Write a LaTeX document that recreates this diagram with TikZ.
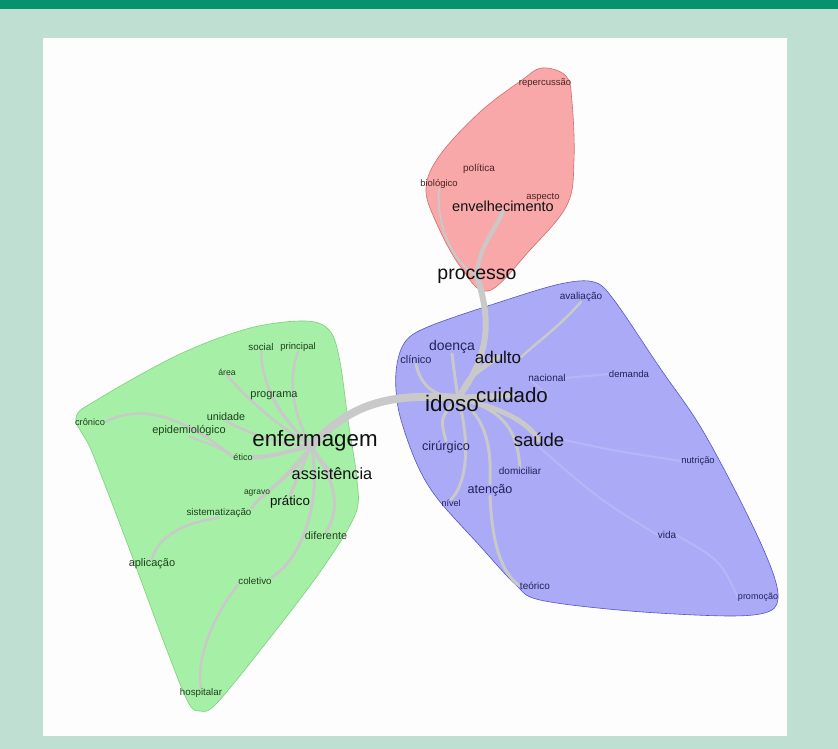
\documentclass[tikz,border=0pt]{standalone}
\usepackage{fontspec}
\setmainfont{Liberation Sans}
\pgfdeclarelayer{hull}
\pgfdeclarelayer{edges}
\pgfsetlayers{hull,edges,main}
\definecolor{bgl}{HTML}{C0DFD3}
\definecolor{bgd}{HTML}{07926E}
\definecolor{panel}{HTML}{FDFDFD}
\definecolor{redfill}{HTML}{F8A8A8}
\definecolor{redline}{HTML}{D86A6A}
\definecolor{grnfill}{HTML}{A6EFA6}
\definecolor{grnline}{HTML}{7AD27A}
\definecolor{blufill}{HTML}{AAAAF6}
\definecolor{bluline}{HTML}{5555C8}
\definecolor{edgec}{HTML}{C9C9C9}
\definecolor{rtext}{HTML}{4A2424}
\definecolor{gtext}{HTML}{1F3F1F}
\definecolor{btext}{HTML}{22225A}
\definecolor{dark}{HTML}{111111}
\begin{document}
\begin{tikzpicture}[x=1pt,y=-1pt,
  fs/.style={inner sep=0pt,font=\fontsize{#1}{#1}\selectfont},
  lnk/.style={draw=edgec,line width=#1,line cap=round},
  faint/.style={draw=white,opacity=0.15,line width=#1,line cap=round},
  hullr/.style={fill=redfill,draw=redline,line width=0.6pt},
  hullg/.style={fill=grnfill,draw=grnline,line width=0.6pt},
  hullb/.style={fill=blufill,draw=bluline,line width=0.6pt}]
\useasboundingbox (0,0) rectangle (838,749);
\begin{pgfonlayer}{hull}
\fill[bgl] (0,0) rectangle (838,749);
\fill[bgd] (0,0) rectangle (838,9);
\fill[panel] (43,38) rectangle (787,736);
% red cluster
\path[hullr] plot[smooth cycle,tension=0.6] coordinates {
 (542,68) (566,76) (572,102) (574,160) (567,205) (530,250) (488,291)
 (460,266) (436,222) (426,188) (440,155) (480,112) (522,80)};
% green cluster
\path[hullg] plot[smooth cycle,tension=0.55] coordinates {
 (76,418) (100,398) (180,354) (250,328) (306,321) (330,331) (340,362)
 (348,420) (357,480) (355,515) (320,572) (262,648) (216,704) (200,711)
 (188,702) (165,645) (126,540) (92,452)};
% blue cluster
\path[hullb] plot[smooth cycle,tension=0.55] coordinates {
 (396,372) (405,342) (430,326) (500,302) (560,284) (594,282) (614,300)
 (660,368) (700,426) (740,500) (768,560) (778,594) (770,611) (730,616)
 (630,611) (540,600) (515,584) (480,546) (437,498) (416,462) (399,412)};
\end{pgfonlayer}

% ---------------- labels: red cluster
\node[fs=9.5,text=rtext] (repercussao) at (545,83) {repercussão};
\node[fs=10,text=rtext] (politica) at (479,169) {política};
\node[fs=9.5,text=rtext] (biologico) at (439,184) {biológico};
\node[fs=9.5,text=rtext] (aspecto) at (543,197) {aspecto};
\node[fs=14.5,text=dark] (env) at (503,206) {envelhecimento};
\node[fs=19.5,text=dark] (proc) at (477,276) {processo};

% ---------------- labels: blue cluster
\node[fs=10,text=btext] (avaliacao) at (581,297) {avaliação};
\node[fs=14,text=btext] (doenca) at (452,347) {doença};
\node[fs=17,text=dark] (adulto) at (498,357) {adulto};
\node[fs=11,text=btext] (clinico) at (416,360) {clínico};
\node[fs=10,text=btext] (nacional) at (547,378) {nacional};
\node[fs=9.6,text=btext] (demanda) at (629,374) {demanda};
\node[fs=22.5,text=dark] (idoso) at (452,403) {idoso};
\node[fs=20.5,text=dark] (cuidado) at (512,395) {cuidado};
\node[fs=18.5,text=dark] (saude) at (539,440) {saúde};
\node[fs=12.7,text=btext] (cirurgico) at (446,447) {cirúrgico};
\node[fs=10,text=btext] (domiciliar) at (520,471) {domiciliar};
\node[fs=12.6,text=btext] (atencao) at (490,490) {atenção};
\node[fs=9,text=btext] (nivel) at (451,503) {nível};
\node[fs=9.4,text=btext] (nutricao) at (698,461) {nutrição};
\node[fs=10,text=btext] (vida) at (667,535) {vida};
\node[fs=10,text=btext] (teorico) at (535,586) {teórico};
\node[fs=9,text=btext] (promocao) at (758,597) {promoção};

% ---------------- labels: green cluster
\node[fs=9.8,text=gtext] (social) at (261,347) {social};
\node[fs=9.5,text=gtext] (principal) at (298,347) {principal};
\node[fs=8.7,text=gtext] (area) at (227,372) {área};
\node[fs=11,text=gtext] (programa) at (274,396) {programa};
\node[fs=10.8,text=gtext] (unidade) at (226,417) {unidade};
\node[fs=9.3,text=gtext] (cronico) at (90,422) {crônico};
\node[fs=11,text=gtext] (epid) at (189,431) {epidemiológico};
\node[fs=22.3,text=dark] (enf) at (315,441) {enfermagem};
\node[fs=9,text=gtext] (etico) at (243,457) {ético};
\node[fs=16.3,text=dark] (assist) at (332,474) {assistência};
\node[fs=8.5,text=gtext] (agravo) at (257,493) {agravo};
\node[fs=13.3,text=dark] (pratico) at (290,502) {prático};
\node[fs=9.8,text=gtext] (sistem) at (219,513) {sistematização};
\node[fs=10.8,text=gtext] (diferente) at (326,536) {diferente};
\node[fs=11,text=gtext] (aplic) at (152,564) {aplicação};
\node[fs=9.8,text=gtext] (coletivo) at (255,581) {coletivo};
\node[fs=9.7,text=gtext] (hosp) at (201,693) {hospitalar};

% hubs
\coordinate (H) at (458,398);
\coordinate (E) at (311,446);

% ---------------- edges
\begin{pgfonlayer}{edges}
% red
\draw[lnk=4] (env.south) .. controls (494,232) and (478,248) .. (proc.center);
\draw[lnk=2] (biologico.south) .. controls (436,225) and (452,262) .. (proc.center);
\draw[lnk=6] (proc.center) .. controls (490,318) and (492,352) .. (H);
% main bridge
\draw[lnk=8] (E) .. controls (352,402) and (392,393) .. (H);
% blue
\draw[lnk=6] (H) .. controls (475,397) .. (cuidado.center);
\draw[lnk=5] (H) .. controls (470,376) .. (adulto.center);
\draw[lnk=5] (H) .. controls (500,408) and (526,420) .. (saude.center);
\draw[lnk=3] (H) .. controls (455,378) .. (doenca.south);
\draw[lnk=3] (H) .. controls (430,396) and (420,382) .. (clinico.south);
\draw[lnk=3] (H) .. controls (440,418) .. (cirurgico.north);
\draw[lnk=3] (H) .. controls (470,440) and (468,482) .. (nivel.north);
\draw[lnk=3] (H) .. controls (490,420) and (491,455) .. (atencao.north);
\draw[lnk=3] (atencao.south) .. controls (492,540) and (500,572) .. (teorico.west);
\draw[lnk=3] (H) .. controls (506,410) and (517,432) .. (domiciliar.north);
\draw[lnk=2.5] (adulto.east) .. controls (532,346) and (556,330) .. (avaliacao.south);
\draw[faint=2] (cuidado.east) -- (nacional.west);
\draw[faint=2] (nacional.east) -- (demanda.west);
\draw[faint=2] (saude.east) .. controls (610,450) .. (nutricao.west);
\draw[faint=2] (saude.south) .. controls (600,500) .. (vida.west);
\draw[faint=2] (vida.east) .. controls (720,560) .. (promocao.west);
% green
\draw[lnk=2.5] (E) .. controls (285,420) and (262,392) .. (social.south);
\draw[lnk=2.5] (E) .. controls (296,420) and (286,384) .. (principal.south);
\draw[lnk=2.5] (E) .. controls (272,422) and (245,396) .. (area.south);
\draw[lnk=2.5] (E) .. controls (294,430) and (280,414) .. (programa.south);
\draw[lnk=2.5] (E) .. controls (282,446) and (246,432) .. (unidade.south);
\draw[lnk=4] (E) .. controls (286,452) and (266,458) .. (etico.east);
\draw[lnk=2.5] (etico.west) .. controls (200,430) and (150,398) .. (cronico.east);
\draw[lnk=2] (etico.west) .. controls (220,448) .. (epid.south);
\draw[lnk=4] (E) .. controls (318,458) .. (assist.center);
\draw[lnk=3] (E) .. controls (300,472) and (260,494) .. (sistem.north east);
\draw[lnk=2] (E) .. controls (290,470) .. (agravo.north east);
\draw[lnk=2.5] (sistem.south) .. controls (172,524) and (156,544) .. (aplic.north);
\draw[lnk=3] (E) -- (pratico.north);
\draw[lnk=3] (E) .. controls (322,492) and (306,556) .. (coletivo.north east);
\draw[lnk=2.5] (coletivo.south west) .. controls (210,620) and (196,662) .. (hosp.north);
\draw[lnk=3] (E) .. controls (336,480) and (341,510) .. (diferente.north);
\end{pgfonlayer}
\end{tikzpicture}
\end{document}
